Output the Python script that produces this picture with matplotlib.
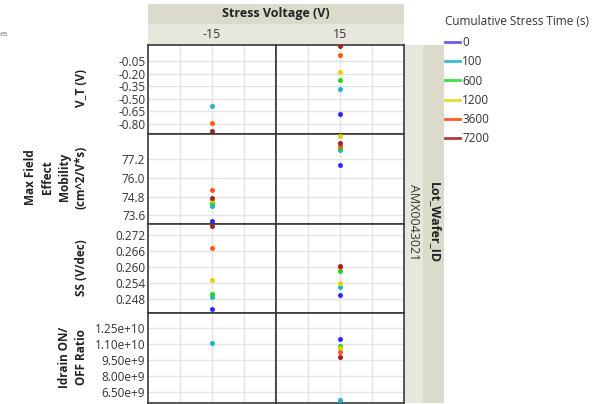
import numpy as np
import matplotlib
matplotlib.use("Agg")
import matplotlib.pyplot as plt
from matplotlib.lines import Line2D
from matplotlib.patches import Rectangle
from matplotlib.ticker import FuncFormatter

plt.rcParams['font.family'] = ['Open Sans', 'DejaVu Sans']
plt.rcParams['axes.unicode_minus'] = False

# stress times and colours
times = ['0', '100', '600', '1200', '3600', '7200']
colors = ['#2a2aff', '#1fb5c4', '#22d622', '#e3d400', '#ff5a1a', '#a52222']
line_colors = ['#6a5cf5', '#3cbccc', '#40e040', '#e6dc30', '#ff5a20', '#b03a3a']
voltages = ['-15', '15']

nan = np.nan
vt_m15 = [nan, -0.586, nan, nan, -0.788, -0.890]
vt_p15 = [-0.687, -0.384, -0.278, -0.174, 0.029, 0.138]
mob_m15 = [73.26, 74.17, 74.39, 74.60, 75.22, 74.73]
mob_p15 = [76.82, 77.79, 77.92, 78.71, 78.08, 78.22]
ss_m15 = [0.2443, 0.2488, 0.2499, 0.2554, 0.2671, 0.2755]
ss_p15 = [0.2496, 0.2527, 0.2588, 0.2541, 0.2600, 0.2606]
ion_m15 = [nan, 1.109e10, nan, nan, nan, nan]
ion_p15 = [1.146e10, 5.715e9, 1.0825e10, 1.061e10, 1.0257e10, 9.784e9]

vt_ticks = [-0.05, -0.20, -0.35, -0.50, -0.65, -0.80]
mob_ticks = [77.2, 76.0, 74.8, 73.6]
ss_ticks = [0.272, 0.266, 0.260, 0.254, 0.248]
ion_ticks = [1.25e10, 1.10e10, 9.5e9, 8.0e9, 6.5e9]


def sci_fmt(v, pos):
    e = int(np.floor(np.log10(v)))
    return '%.2fe+%d' % (v / 10 ** e, e)


rows = [
    (vt_m15, vt_p15, vt_ticks, (-0.926, 0.154), FuncFormatter(lambda v, p: '%.2f' % v)),
    (mob_m15, mob_p15, mob_ticks, (73.07, 78.83), FuncFormatter(lambda v, p: '%.1f' % v)),
    (ss_m15, ss_p15, ss_ticks, (0.2428, 0.2765), FuncFormatter(lambda v, p: '%.3f' % v)),
    (ion_m15, ion_p15, ion_ticks, (5.525e9, 1.3948e10), FuncFormatter(sci_fmt)),
]

W, H = 613, 404
fig = plt.figure(figsize=(W / 100, H / 100), dpi=100)
x0, x1, y0, y1 = 148, 404, 44.5, 402.5
axes = fig.subplots(4, 2, gridspec_kw=dict(hspace=0, wspace=0, left=x0 / W, right=x1 / W,
                                           top=1 - y0 / H, bottom=1 - y1 / H))

for r, (m15, p15, ticks, lim, fmt) in enumerate(rows):
    for c, vals in enumerate([m15, p15]):
        ax = axes[r, c]
        ax.set_xlim(-0.5, 0.5)
        ax.set_ylim(*lim)
        ax.set_xticks([-0.25, 0, 0.25])
        ax.set_xticklabels([])
        ax.set_yticks(ticks)
        ax.yaxis.set_major_formatter(fmt)
        ax.tick_params(length=0, labelsize=8.5, labelcolor='#333333', pad=2)
        if c == 1:
            ax.set_yticklabels([])
        ax.grid(True, color='#e4e4e4', lw=1)
        ax.set_axisbelow(True)
        for s in ax.spines.values():
            s.set_color('#3a3a3a')
            s.set_linewidth(1.2)
        for k in range(len(times)):
            ax.plot([0], [vals[k]], 'o', color=colors[k], ms=3.6, mec='none', zorder=3)

# header bands
def px_rect(x, y, w, h, fc):
    fig.add_artist(Rectangle((x / W, 1 - (y + h) / H), w / W, h / H, transform=fig.transFigure,
                             fc=fc, ec='none', zorder=0))

px_rect(148, 4, 256, 20, '#dcdacb')
px_rect(148, 24, 256, 20.5, '#e8e7dd')
px_rect(404, 44.5, 19, 358, '#e8e7dd')
px_rect(423, 44.5, 21, 358, '#dcdacb')

fig.text(276 / W, 1 - 14 / H, 'Stress Voltage (V)', ha='center', va='center',
         fontsize=9, fontweight='bold', color='#222222')
for c, v in enumerate(voltages):
    fig.text((212 + 128 * c) / W, 1 - 34 / H, v, ha='center', va='center', fontsize=9, color='#333333')
fig.text(413 / W, 1 - 222 / H, 'AMX0043021', rotation=-90, ha='center', va='center',
         fontsize=9, color='#333333')
fig.text(434 / W, 1 - 223 / H, 'Lot_Wafer_ID', rotation=-90, ha='center', va='center',
         fontsize=9, fontweight='bold', color='#222222')

# row labels
fig.text(88 / W, 1 - 88 / H, 'V_T (V)', rotation=90, ha='right', va='center',
         fontsize=8.5, fontweight='bold', color='#222222')
fig.text(88 / W, 1 - 177 / H, 'Max Field\nEffect\nMobility\n(cm^2/V*s)', rotation=90, ha='right',
         va='center', ma='center', fontsize=8.5, fontweight='bold', color='#222222', linespacing=1.4)
fig.text(88 / W, 1 - 268 / H, 'SS (V/dec)', rotation=90, ha='right', va='center',
         fontsize=8.5, fontweight='bold', color='#222222')
fig.text(88 / W, 1 - 357 / H, 'Idrain ON/\nOFF Ratio', rotation=90, ha='right', va='center',
         ma='center', fontsize=8.5, fontweight='bold', color='#222222', linespacing=1.4)

fig.text(0, 1 - 35 / H, 'es', ha='left', va='center', fontsize=6, color='#777777')

# legend
handles = [Line2D([], [], color=line_colors[k], lw=2) for k in range(len(times))]
leg = fig.legend(handles, times, loc='upper left', bbox_to_anchor=(445 / W, 1 - 15 / H),
                 frameon=False, title='Cumulative Stress Time (s)', fontsize=8.5,
                 title_fontsize=8.5, handlelength=1.3, handletextpad=0.15, labelspacing=0.52,
                 borderaxespad=0, borderpad=0)
leg._legend_box.align = 'left'
leg._legend_box.sep = 6
for t in leg.get_texts():
    t.set_color('#333333')
leg.get_title().set_color('#333333')

fig.savefig('out.png', dpi=100)
